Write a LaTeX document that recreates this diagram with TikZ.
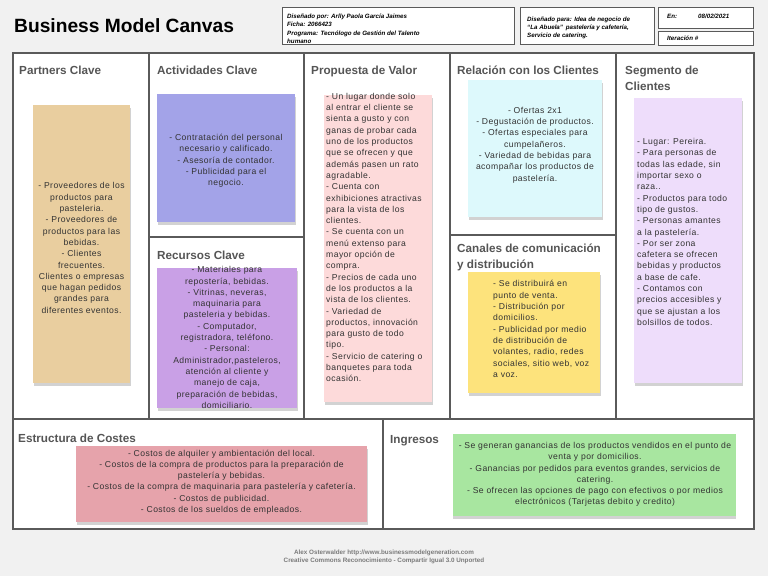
\documentclass[tikz,border=0pt]{standalone}
\usepackage{fontspec}
\setmainfont{Liberation Sans}
\newfontfamily\notefont[LetterSpace=5]{Liberation Sans}
\usepackage{tikz}
\usetikzlibrary{shadows}
\definecolor{bg}{HTML}{F1F1F1}
\definecolor{rule}{HTML}{5A5A5A}
\definecolor{head}{HTML}{555555}
\definecolor{ink}{HTML}{333333}
\definecolor{foot}{HTML}{7A7A7A}
\definecolor{tan}{HTML}{E9CE9F}
\definecolor{peri}{HTML}{A3A3E8}
\definecolor{lilac}{HTML}{C9A0E6}
\definecolor{rose}{HTML}{FDDADA}
\definecolor{aqua}{HTML}{DDF9FC}
\definecolor{lemon}{HTML}{FDE37C}
\definecolor{mauve}{HTML}{EEDDFB}
\definecolor{coral}{HTML}{E6A3AB}
\definecolor{mint}{HTML}{A8E6A0}
\tikzset{l/.style={font=\fontsize{11.7}{15.2}\selectfont\bfseries, text=head, anchor=base west, align=left, inner sep=0pt}}
\tikzset{m/.style={font=\notefont\fontsize{8.6}{11.3}\selectfont, text=ink, inner sep=0pt}}
\tikzset{s/.style={font=\fontsize{6.2}{8.4}\selectfont\bfseries\itshape, align=left, inner sep=0pt}}
\tikzset{note/.style={inner sep=0pt, drop shadow={shadow xshift=0.5pt, shadow yshift=-3pt, opacity=.35}}}
\tikzset{box/.style={draw=rule, line width=.8pt, fill=white}}

\begin{document}
\begin{tikzpicture}[x=1pt,y=-1pt]
        \useasboundingbox[fill=bg] (0,0) rectangle (768,576);
        \node[font=\fontsize{19.2}{22}\selectfont\bfseries, anchor=base west, inner sep=0pt] (title) at (14,32) {Business Model Canvas};
        \draw[box] (282,7) rectangle (514,44);
        \draw[box] (520,7) rectangle (654,44);
        \draw[box] (658,7) rectangle (753,28);
        \draw[box] (658,31) rectangle (753,45);
        \node[s, anchor=north west] (by) at (287,13.5) {Diseñado por: Arlly Paola García Jaimes\\Ficha: 2066423\\Programa: Tecnólogo de Gestión del Talento\\humano};
        \node[s, anchor=north west] (for) at (527,16.5) {Diseñado para: Idea de negocio de\\“La Abuela”\, pastelería y cafetería,\\Servicio de catering.};
        \node[s, anchor=base west] (en) at (667,18.5) {En:};
        \node[s, anchor=base west] (date) at (698,18.5) {08/02/2021};
        \node[s, anchor=base west] (it) at (667,40.5) {Iteración \#};

        \draw[rule, line width=1.6pt, fill=white] (13,53) rectangle (754,529);
        \draw[rule, line width=1.2pt] (13,419) -- (754,419);
        \draw[rule, line width=1.2pt] (149,53) -- (149,419);
        \draw[rule, line width=1.2pt] (304,53) -- (304,419);
        \draw[rule, line width=1.2pt] (450,53) -- (450,419);
        \draw[rule, line width=1.2pt] (616,53) -- (616,419);
        \draw[rule, line width=1.2pt] (383,419) -- (383,529);
        \draw[rule, line width=1.2pt] (149,237) -- (304,237);
        \draw[rule, line width=1.2pt] (450,235) -- (616,235);

        \node[l] (pch) at (19,74) {Partners Clave};
        \node[l] (ach) at (157,74) {Actividades Clave};
        \node[l] (rch) at (157,259) {Recursos Clave};
        \node[l] (pvh) at (311,74) {Propuesta de Valor};
        \node[l] (rch2) at (457,74) {Relación con los Clientes};
        \node[l] (cdh) at (457,268) {Canales de comunicación\\y distribución};
        \node[l] (sch) at (625,90) {Segmento de\\Clientes};
        \node[l] (ech) at (18,442) {Estructura de Costes};
        \node[l] (igh) at (390,443) {Ingresos};

        \node[note, fill=tan, minimum width=97pt, minimum height=278pt] (pcn) at (81.5,244) {};
        \node[note, fill=peri, minimum width=138pt, minimum height=128pt] (acn) at (226,158) {};
        \node[note, fill=lilac, minimum width=140pt, minimum height=140pt] (rcn) at (227,338) {};
        \node[note, fill=rose, minimum width=108pt, minimum height=307pt] (pvn) at (378,248.5) {};
        \node[note, fill=aqua, minimum width=134pt, minimum height=137pt] (rln) at (535,148.5) {};
        \node[note, fill=lemon, minimum width=132pt, minimum height=121pt] (cdn) at (534,332.5) {};
        \node[note, fill=mauve, minimum width=108pt, minimum height=285pt] (scn) at (688,240.5) {};
        \node[note, fill=coral, minimum width=291pt, minimum height=76pt] (ecn) at (221.5,484) {};
        \node[note, fill=mint, minimum width=283pt, minimum height=82pt] (ign) at (594,474.5) {};

        \node[m, align=center] (pc) at (81.5,248) {- Proveedores de los\\productos para\\pasteleria.\\- Proveedores de\\productos para las\\bebidas.\\- Clientes\\frecuentes.\\Clientes o empresas\\que hagan pedidos\\grandes para\\diferentes eventos.};
        \node[m, align=center] (ac) at (226,161) {- Contratación del personal\\necesario y calificado.\\- Asesoría de contador.\\- Publicidad para el\\negocio.};
        \node[m, align=center] (rc) at (227,337.5) {- Materiales para\\repostería, bebidas.\\- Vitrinas, neveras,\\maquinaria para\\pasteleria y bebidas.\\- Computador,\\registradora, teléfono.\\- Personal:\\Administrador,pasteleros,\\atención al cliente y\\manejo de caja,\\preparación de bebidas,\\domiciliario.};
        \node[m, align=left, anchor=west] (pv) at (326,237.5) {- Un lugar donde solo\\al entrar el cliente se\\sienta a gusto y con\\ganas de probar cada\\uno de los productos\\que se ofrecen y que\\además pasen un rato\\agradable.\\- Cuenta con\\exhibiciones atractivas\\para la vista de los\\clientes.\\- Se cuenta con un\\menú extenso para\\mayor opción de\\compra.\\- Precios de cada uno\\de los productos a la\\vista de los clientes.\\- Variedad de\\productos, innovación\\para gusto de todo\\tipo.\\- Servicio de catering o\\banquetes para toda\\ocasión.};
        \node[m, align=center] (rl) at (535,145) {- Ofertas 2x1\\- Degustación de productos.\\- Ofertas especiales para\\cumpelañeros.\\- Variedad de bebidas para\\acompañar los productos de\\pastelería.};
        \node[m, align=left, anchor=west] (cd) at (493,329) {- Se distribuirá en\\punto de venta.\\- Distribución por\\domicilios.\\- Publicidad por medio\\de distribución de\\volantes, radio, redes\\sociales, sitio web, voz\\a voz.};
        \node[m, align=left, anchor=west] (sc) at (637,232) {- Lugar: Pereira.\\- Para personas de\\todas las edade, sin\\importar sexo o\\raza..\\- Productos para todo\\tipo de gustos.\\- Personas amantes\\a la pastelería.\\- Por ser zona\\cafetera se ofrecen\\bebidas y productos\\a base de cafe.\\- Contamos con\\precios accesibles y\\que se ajustan a los\\bolsillos de todos.};
        \node[m, align=center] (ec) at (221.5,482) {- Costos de alquiler y ambientación del local.\\- Costos de la compra de productos para la preparación de\\pastelería y bebidas.\\- Costos de la compra de maquinaria para pastelería y cafetería.\\- Costos de publicidad.\\- Costos de los sueldos de empleados.};
        \node[m, align=center] (ig) at (595,474.5) {- Se generan ganancias de los productos vendidos en el punto de\\venta y por domicilios.\\- Ganancias por pedidos para eventos grandes, servicios de\\catering.\\- Se ofrecen las opciones de pago con efectivos o por medios\\electrónicos (Tarjetas debito y credito)};

        \node[font=\fontsize{6.3}{8}\selectfont\bfseries, text=foot, align=center, inner sep=0pt] (credit) at (384,557) {Alex Osterwalder http://www.businessmodelgeneration.com\\Creative Commons Reconocimiento - Compartir Igual 3.0 Unported};
      \end{tikzpicture}
\end{document}
